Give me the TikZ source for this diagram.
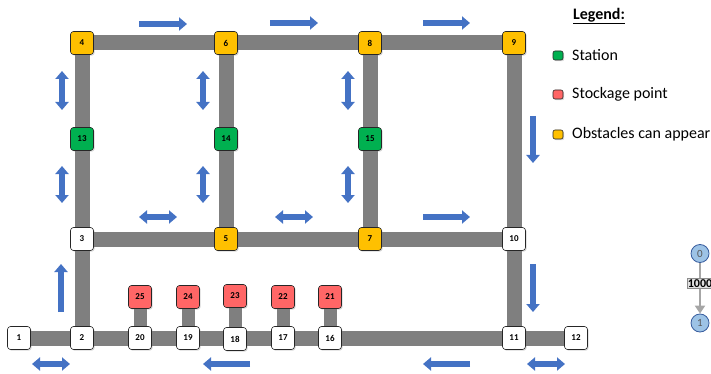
\documentclass[tikz,border=0pt]{standalone}
\usepackage{fontspec}
\setmainfont{Carlito}
\usetikzlibrary{arrows.meta,shadows,backgrounds}
\definecolor{roadgray}{HTML}{7F7F7F}
\definecolor{flowblue}{HTML}{4472C4}
\definecolor{obstyellow}{HTML}{FFC000}
\definecolor{stationgreen}{HTML}{00B050}
\definecolor{stockred}{HTML}{FF6666}
\definecolor{vertblue}{HTML}{9DC3E6}
\tikzstyle{cell}=[draw=black!85, line width=0.6pt, rounded corners=3pt, fill=white,
  minimum size=23pt, inner sep=0pt, font=\fontsize{9}{10}\selectfont\bfseries,
  drop shadow={shadow xshift=1.2pt, shadow yshift=-1.2pt, opacity=0.3}]
\tikzstyle{obst}=[cell, fill=obstyellow]
\tikzstyle{station}=[cell, fill=stationgreen]
\tikzstyle{stock}=[cell, fill=stockred]
\tikzstyle{keybox}=[cell, minimum width=10pt, minimum height=9pt, rounded corners=2pt]
\tikzstyle{keytext}=[anchor=west, inner sep=0pt, font=\fontsize{16}{18}\selectfont]
\tikzstyle{road}=[line width=15pt, roadgray]
\tikzstyle{stub}=[line width=13pt, roadgray]
\tikzstyle{oneway}=[line width=6pt, flowblue, -{Triangle[length=8pt,width=13pt]}]
\tikzstyle{twoway}=[line width=6pt, flowblue, {Triangle[length=8pt,width=13pt]}-{Triangle[length=8pt,width=13pt]}]
\tikzstyle{vtx}=[circle, draw=flowblue!80!black, line width=0.8pt, fill=vertblue,
  minimum size=18pt, inner sep=0pt, text=black!65, font=\fontsize{11}{12}\selectfont]

\begin{document}
\begin{tikzpicture}[x=1pt, y=-1pt]
\useasboundingbox (0,0) rectangle (711,374);
% Top row
    \node[obst] (n4) at (82,43) {4};
    \node[obst] (n6) at (226,43) {6};
    \node[obst] (n8) at (370,43) {8};
    \node[obst] (n9) at (514,43) {9};
% Stations
    \node[station] (n13) at (82,139) {13};
    \node[station] (n14) at (226,139) {14};
    \node[station] (n15) at (370,139) {15};
% Middle row
    \node[cell] (n3) at (82,239) {3};
    \node[obst] (n5) at (226,239) {5};
    \node[obst] (n7) at (370,239) {7};
    \node[cell] (n10) at (514,239) {10};
% Bottom row
    \node[cell] (n1) at (19,338) {1};
    \node[cell] (n2) at (82,338) {2};
    \node[cell] (n20) at (140,338) {20};
    \node[cell] (n19) at (188,338) {19};
    \node[cell] (n18) at (235,339) {18};
    \node[cell] (n17) at (283,338) {17};
    \node[cell] (n16) at (330,338) {16};
    \node[cell] (n11) at (514,338) {11};
    \node[cell] (n12) at (576,338) {12};
% Stockage points
    \node[stock] (n25) at (140,297) {25};
    \node[stock] (n24) at (188,297) {24};
    \node[stock] (n23) at (235,296) {23};
    \node[stock] (n22) at (283,297) {22};
    \node[stock] (n21) at (330,297) {21};
% Roads
\begin{pgfonlayer}{background}
    \draw[road] (n4.center) -- (n9.center);
    \draw[road] (n3.center) -- (n10.center);
    \draw[road] (n1.center) -- (n12.center);
    \draw[road] (n4.center) -- (n13.center) -- (n3.center) -- (n2.center);
    \draw[road] (n6.center) -- (n14.center) -- (n5.center);
    \draw[road] (n8.center) -- (n15.center) -- (n7.center);
    \draw[road] (n9.center) -- (n10.center) -- (n11.center);
    \draw[stub] (n25.center) -- (n20.center);
    \draw[stub] (n24.center) -- (n19.center);
    \draw[stub] (n23.center) -- (n18.center);
    \draw[stub] (n22.center) -- (n17.center);
    \draw[stub] (n21.center) -- (n16.center);
\end{pgfonlayer}
% Directions
    \draw[oneway] (139,24) -- (187,24);
    \draw[oneway] (270,23) -- (318,23);
    \draw[oneway] (423,23) -- (470,23);
    \draw[twoway] (62,71) -- (62,110);
    \draw[twoway] (62,166) -- (62,203);
    \draw[twoway] (203,71) -- (203,110);
    \draw[twoway] (203,166) -- (203,203);
    \draw[twoway] (348,71) -- (348,110);
    \draw[twoway] (348,166) -- (348,203);
    \draw[oneway] (533,116) -- (533,163);
    \draw[twoway] (139,217) -- (177,217);
    \draw[twoway] (275,217) -- (313,217);
    \draw[oneway] (423,217) -- (470,217);
    \draw[oneway] (61,312) -- (61,264);
    \draw[oneway] (533,264) -- (533,312);
    \draw[twoway] (32,364) -- (70,364);
    \draw[oneway] (250,364) -- (203,364);
    \draw[oneway] (470,364) -- (423,364);
    \draw[twoway] (527,364) -- (565,364);
% Legend
    \node[font=\fontsize{16}{18}\selectfont\bfseries] (legend) at (599,16) {\underline{Legend:}};
    \node[keybox, fill=stationgreen] (kstation) at (558,55.5) {};
    \node[keybox, fill=stockred] (kstock) at (558,94.5) {};
    \node[keybox, fill=obstyellow] (kobst) at (558,134.5) {};
    \node[keytext] (tstation) at (572,55) {Station};
    \node[keytext] (tstock) at (572,94) {Stockage point};
    \node[keytext] (tobst) at (572,134) {Obstacles can appear};
% Small graph
    \node[vtx] (v0) at (700,253.5) {0};
    \node[vtx] (v1) at (700,323) {1};
    \draw[black!35, line width=2pt, -{Triangle[length=8pt,width=10pt]}] (v0) -- node[pos=0.4, fill=black!12, draw=black!45, line width=0.5pt, inner sep=1pt, text=black, font=\fontsize{12}{13}\selectfont\bfseries] (w01) {1000} (v1);
\end{tikzpicture}
\end{document}
